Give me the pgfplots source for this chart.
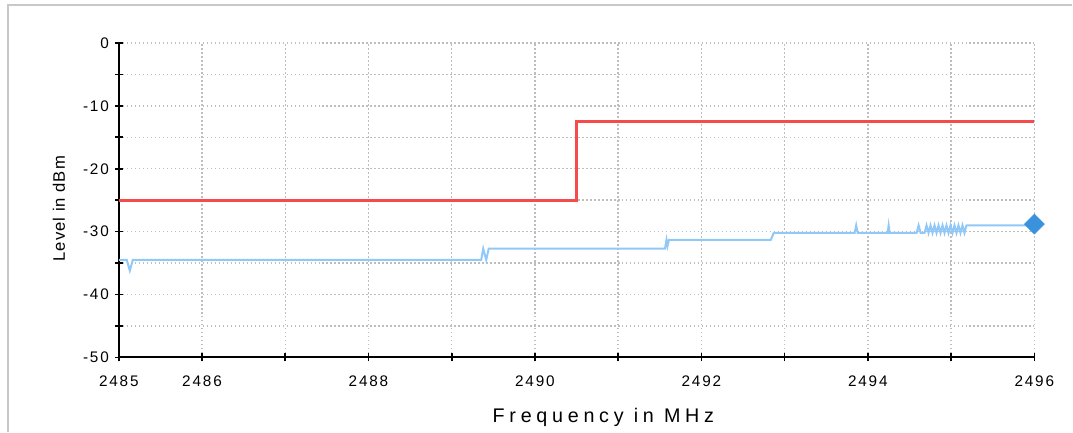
\documentclass[border=0pt]{standalone}
\usepackage{fontspec}
\setmainfont{Liberation Sans}
\newfontfamily\tickfont[LetterSpace=12]{Liberation Sans}
\newfontfamily\ylabfont[LetterSpace=6]{Liberation Sans}
\newfontfamily\labfont[LetterSpace=24]{Liberation Sans}
\usepackage{pgfplots}
\pgfplotsset{compat=1.18}

\definecolor{limitred}{RGB}{245,75,75}
\definecolor{tracebl}{RGB}{144,200,248}
\definecolor{markbl}{RGB}{58,146,220}
\definecolor{gridgr}{RGB}{190,190,190}
\definecolor{framegr}{RGB}{200,200,200}

\begin{document}
\begin{tikzpicture}
  \begin{axis}[
      at={(0,0)}, anchor=south west,
      scale only axis,
      width=687.75pt, height=236.25pt,
      xmin=2485, xmax=2496,
      ymin=-50, ymax=0,
      axis x line*=bottom,
      axis y line*=left,
      axis line style={line width=1.5pt},
      xtick={2485,...,2496},
      xticklabels={2485,2486,,2488,,2490,,2492,,2494,,2496},
      ytick={-50,-45,...,0},
      yticklabels={-50,,-40,,-30,,-20,,-10,,0},
      tick align=center,
      major tick length=6pt,
      tick style={line width=1.2pt, black},
      tick label style={font={\tickfont\fontsize{11.5}{13}\selectfont}},
      yticklabel style={xshift=-1pt},
      xticklabel style={yshift=-7pt},
      grid=major,
      major grid style={gridgr, line width=1.1pt, dash pattern=on 1.1pt off 1.9pt},
      clip=false,
    ]
    % limit line
    \addplot[limitred, line width=2.25pt, line join=miter] coordinates {
        (2485,-25) (2490.5,-25) (2490.5,-12.5) (2496,-12.5)
      };
    % measured trace
    \addplot[tracebl, line width=1.5pt] coordinates {
        (2485.000,-34.5) (2485.096,-34.5) (2485.132,-36.2) (2485.168,-34.5)
        (2489.354,-34.5) (2489.378,-32.7) (2489.414,-34.5) (2489.444,-32.7)
        (2491.562,-32.7) (2491.580,-31.3) (2491.592,-32.3) (2491.610,-31.3)
        (2492.833,-31.3) (2492.869,-30.2)
        (2493.841,-30.2) (2493.859,-29.0) (2493.877,-30.2)
        (2494.237,-30.2) (2494.249,-29.0) (2494.261,-30.2)
        (2494.585,-30.2) (2494.609,-29.0) (2494.633,-30.2)
        (2494.680,-30.2) (2494.704,-29.0) (2494.728,-30.2) (2494.752,-29.0)
        (2494.776,-30.2) (2494.800,-29.0) (2494.824,-30.2) (2494.848,-29.0)
        (2494.872,-30.2) (2494.896,-29.0) (2494.920,-30.2) (2494.944,-29.0)
        (2494.968,-30.2) (2494.992,-29.0) (2495.016,-30.2) (2495.040,-29.0)
        (2495.064,-30.2) (2495.088,-29.0) (2495.112,-30.2) (2495.136,-29.0)
        (2495.160,-30.2) (2495.184,-29.0) (2496.000,-29.0)
      };
    % end marker
    \addplot[only marks, mark=square*, mark size=5.3pt,
             mark options={rotate=45, fill=markbl, draw=markbl}] coordinates {
        (2496,-28.8)
      };
  \end{axis}
  % labels
  \node[rotate=90, font={\ylabfont\fontsize{12.5}{14}\selectfont}] at (-45pt,111.75pt) {Level in dBm};
  \node[anchor=base, font={\labfont\fontsize{14.8}{17}\selectfont}] at (364pt,-48.75pt) {Frequency in MHz};
  % outer frame
  \draw[framegr, line width=1.5pt] (-83.25pt,-56pt) -- (-83.25pt,264.75pt) -- (716pt,264.75pt);
  \useasboundingbox (-89.25pt,-55.5pt) rectangle (715.5pt,268.5pt);
\end{tikzpicture}
\end{document}
